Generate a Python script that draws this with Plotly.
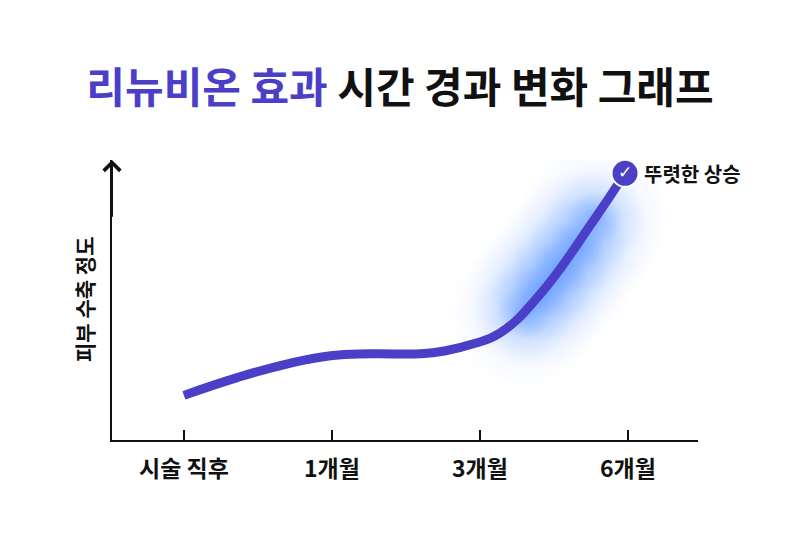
#!/usr/bin/python3
"""리뉴비온 효과 시간 경과 변화 그래프"""
import plotly.graph_objects as go

# x axis categories
stage_labels = ["시술 직후", "1개월", "3개월", "6개월"]
stage_pos = [0, 1, 2, 3]

# curve (x in stage units, y = level 0-100)
curve_t = [0, 0.36, 0.70, 0.99, 1.26, 1.6, 1.76, 1.95, 2.135,
           2.405, 2.76, 2.98]
curve_level = [16.1, 22.5, 27.5, 30.4, 31.1, 31.1, 32.1, 34.6, 38.6,
               52.5, 78.6, 96.2]

# glow behind the rising part
glow_t = [2.3, 2.42, 2.54, 2.66, 2.78]
glow_level = [46, 53.5, 61.6, 70, 80]

end_label = "뚜렷한 상승"
y_title = "피부 수축 정도"

PURPLE = "#4b3fc8"
FONT = "Noto Sans CJK KR"

fig = go.Figure()

# soft blue glow: stacked radial-gradient markers (gradient color = centre)
for size, alpha in [(150, 0.14), (100, 0.2), (55, 0.25)]:
    fig.add_trace(go.Scatter(
        x=glow_t, y=glow_level, mode="markers",
        marker=dict(size=size, color="rgba(35,115,255,0)",
                    gradient=dict(type="radial", color=f"rgba(35,115,255,{alpha})"),
                    line=dict(width=0)),
        hoverinfo="skip", showlegend=False))

fig.add_trace(go.Scatter(
    x=curve_t, y=curve_level, mode="lines",
    line=dict(color=PURPLE, width=9, shape="spline", smoothing=1.3),
    hoverinfo="skip", showlegend=False))

# end marker with check mark
fig.add_trace(go.Scatter(
    x=curve_t[-1:], y=curve_level[-1:], mode="markers+text",
    marker=dict(size=27, color=PURPLE, line=dict(color="white", width=2)),
    text=["✓"], textposition="middle center",
    textfont=dict(family="DejaVu Sans", size=17, color="white", weight=700),
    hoverinfo="skip", showlegend=False))

fig.add_annotation(x=curve_t[-1], y=curve_level[-1], text=end_label,
                   showarrow=False, xanchor="left", xshift=17,
                   font=dict(family=FONT, size=20, color="#111111", weight=700))

# y axis arrow head
fig.add_annotation(x=-0.486, y=101, ax=-0.486, ay=80, xref="x", yref="y",
                   axref="x", ayref="y", text="", showarrow=True,
                   arrowhead=4, arrowsize=1.6, arrowwidth=2, arrowcolor="#111111")

# y axis title
fig.add_annotation(x=0, y=0.5, xref="paper", yref="paper", xshift=-28,
                   xanchor="center", yanchor="middle",
                   text=y_title, textangle=-90, showarrow=False,
                   font=dict(family=FONT, size=21, color="#111111", weight=700))

# the page adds an 8px body margin, so the margins are shifted by 8
fig.update_layout(
    width=800, height=537,
    margin=dict(l=104, r=110, t=152, b=105),
    paper_bgcolor="white", plot_bgcolor="white",
    title=dict(
        text=f"<span style='color:{PURPLE}'>리뉴비온 효과</span> 시간 경과 변화 그래프",
        x=0.49, xanchor="center", y=0.85, yanchor="middle",
        font=dict(family=FONT, size=42, color="#111111", weight=700)),
    font=dict(family=FONT),
)

fig.update_xaxes(
    range=[-0.486, 3.473], tickvals=stage_pos, ticktext=stage_labels,
    showline=True, linecolor="#111111", linewidth=2,
    ticks="inside", ticklen=10, tickwidth=2, tickcolor="#111111",
    ticklabelstandoff=7,
    tickfont=dict(family=FONT, size=23, color="#111111", weight=700),
    showgrid=False, zeroline=False)

fig.update_yaxes(
    range=[0, 101], showticklabels=False, ticks="",
    showline=True, linecolor="#111111", linewidth=2,
    showgrid=False, zeroline=False)

fig.write_html("out.html")
